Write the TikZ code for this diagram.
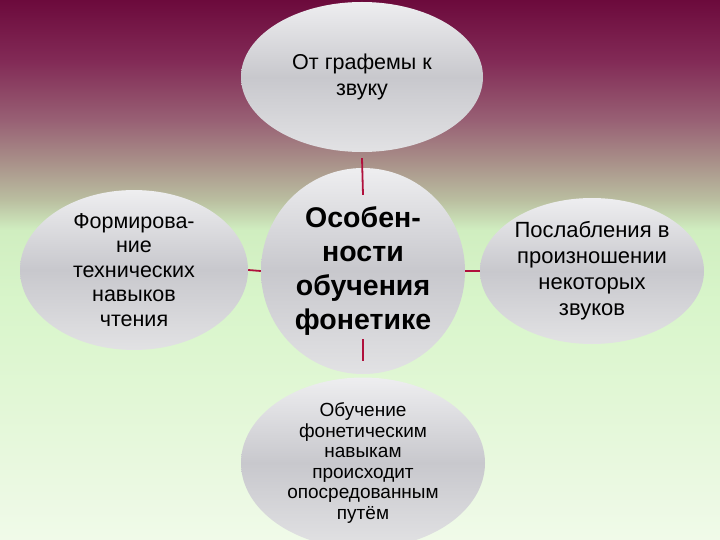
\documentclass[tikz,border=0pt]{standalone}
\usepackage{fontspec}
\setmainfont{Liberation Sans}
\usetikzlibrary{shapes.geometric}
\definecolor{g0}{RGB}{108,10,60}
\definecolor{g60}{RGB}{130,42,86}
\definecolor{g120}{RGB}{152,96,116}
\definecolor{g160}{RGB}{168,142,136}
\definecolor{g200}{RGB}{186,190,160}
\definecolor{g230}{RGB}{208,238,192}
\definecolor{g300}{RGB}{216,245,202}
\definecolor{g400}{RGB}{226,247,214}
\definecolor{g540}{RGB}{240,250,233}
\definecolor{spokecol}{RGB}{176,16,60}
\definecolor{eltop}{RGB}{238,238,240}
\definecolor{elmid}{RGB}{200,200,205}
\definecolor{elbot}{RGB}{226,226,228}
\pgfdeclareverticalshading{bgshade}{100bp}{color(0bp)=(g540); color(25bp)=(g540); color(38bp)=(g400); color(47.2bp)=(g300); color(53.7bp)=(g230); color(56.5bp)=(g200); color(60.2bp)=(g160); color(63.9bp)=(g120); color(69.4bp)=(g60); color(75bp)=(g0); color(100bp)=(g0)}
\tikzset{
  bubble/.style={ellipse, inner sep=0pt, align=center, text=black,
    top color=eltop, bottom color=elbot, middle color=elmid},
  spoke/.style={draw=spokecol, line width=1.8pt},
}
\begin{document}
\begin{tikzpicture}[x=1pt,y=-1pt]
\path[shading=bgshade] (0,0) rectangle (720,540);
\useasboundingbox (0,0) rectangle (720,540);
\node[bubble, minimum width=242pt, minimum height=150pt, font=\fontsize{21.5}{26}\selectfont] (top) at (362,77) {От графемы к\\звуку};
\node[bubble, minimum width=228pt, minimum height=148pt, font=\fontsize{21.5}{24.5}\selectfont] (left) at (134,270) {Формирова-\\ние\\технических\\навыков\\чтения};
\node[bubble, minimum width=224pt, minimum height=146pt, font=\fontsize{22}{26}\selectfont] (right) at (592,271) {Послабления в\\произношении\\некоторых\\звуков};
\node[bubble, minimum width=244pt, minimum height=150pt, font=\fontsize{19}{20.6}\selectfont] (bot) at (363,463) {Обучение\\фонетическим\\навыкам\\происходит\\опосредованным\\путём};
\node[bubble, minimum width=204pt, minimum height=206pt, font=\bfseries\fontsize{28.5}{34}\selectfont] (c) at (363,271) {Особен-\\ности\\обучения\\фонетике};
\draw[spoke] ([yshift=-6pt]top.south) -- ([yshift=-27pt]c.north);
\draw[spoke] ([yshift=35pt]c.south) -- ([yshift=16pt]bot.north);
\draw[spoke] (left.east) -- (c.west);
\draw[spoke] (c.east) -- (right.west);
\end{tikzpicture}
\end{document}
